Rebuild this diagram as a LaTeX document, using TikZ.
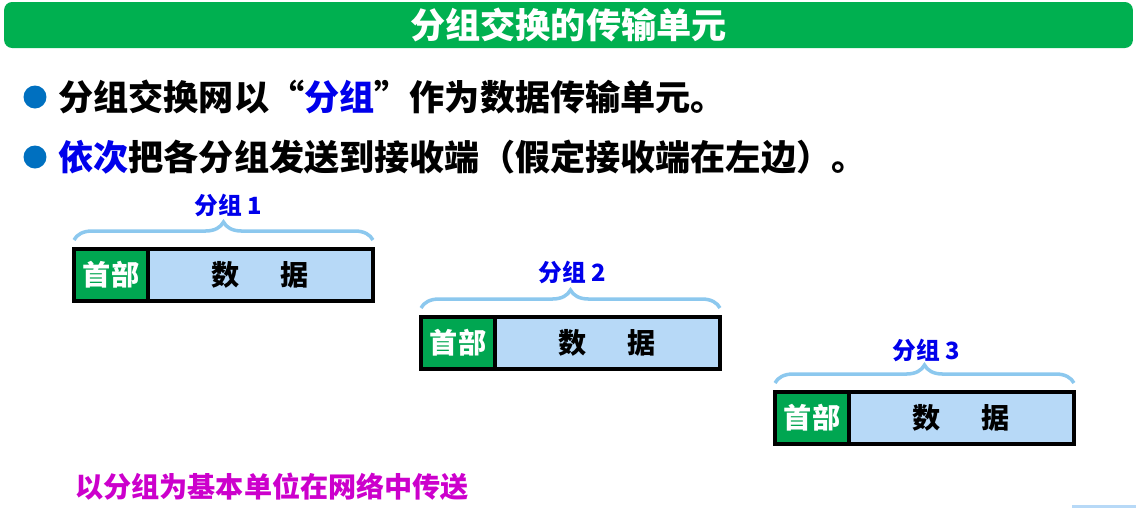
\documentclass[tikz,border=0pt]{standalone}
\usepackage{fontspec}
\setmainfont{Noto Sans CJK SC}
\usetikzlibrary{calc,positioning,decorations.pathreplacing}
\definecolor{titlegreen}{RGB}{0,176,80}
\definecolor{hdrgreen}{RGB}{0,166,81}
\definecolor{datablue}{RGB}{183,217,247}
\definecolor{bracecol}{RGB}{140,200,238}
\definecolor{dotblue}{RGB}{0,112,192}
\definecolor{keyblue}{RGB}{0,0,235}
\definecolor{notemag}{RGB}{204,0,204}
\newcommand{\hl}[1]{\textcolor{keyblue}{#1}}
\tikzset{
  banner/.style={rounded corners=0.16cm, fill=titlegreen, minimum width=22.58cm, minimum height=0.92cm, inner sep=0pt, text=white, font=\fontsize{20pt}{24pt}\selectfont\bfseries},
  bulletdot/.style={circle, fill=dotblue, minimum size=0.46cm, inner sep=0pt},
  point/.style={anchor=west, inner sep=0pt, font=\fontsize{20pt}{24pt}\selectfont\bfseries},
  hdr/.style={draw, line width=1.8pt, fill=hdrgreen, minimum width=1.48cm, minimum height=1.04cm, inner sep=0pt, outer sep=0pt, text=white, font=\fontsize{16pt}{19pt}\selectfont\bfseries},
  payload/.style={draw, line width=1.8pt, fill=datablue, minimum width=4.5cm, minimum height=1.04cm, inner sep=0pt, outer sep=0pt, font=\fontsize{16pt}{19pt}\selectfont\bfseries},
  grpbrace/.style={decorate, decoration={brace, amplitude=0.36cm}, draw=bracecol, line width=2pt},
  grplabel/.style={text=keyblue, inner sep=0pt, font=\fontsize{13.5pt}{16pt}\selectfont\bfseries},
  note/.style={anchor=west, inner sep=0pt, text=notemag, font=\fontsize{16pt}{19pt}\selectfont\bfseries}
}
\begin{document}
\begin{tikzpicture}[x=0.02cm,y=-0.02cm]
  \useasboundingbox (0,0) rectangle (1136,508);
  \node[banner] (title) at (568.5,25) {分组交换的传输单元};

  \node[bulletdot] (dotA) at (35,97) {};
  \node[point] (lineA) at (58,97) {分组交换网以“\hl{分组}”作为数据传输单元。};
  \node[bulletdot] (dotB) at (35,157) {};
  \node[point] (lineB) at (58,157) {\hl{依次}把各分组发送到接收端（假定接收端在左边）。};

  % three packets, each header + data
  \node[hdr] (hdrA) at (111,275) {首部};
  \node[payload, right=0pt of hdrA] (dataA) {数\hspace{1.45em}据};
  \node[hdr] (hdrB) at (458,343) {首部};
  \node[payload, right=0pt of hdrB] (dataB) {数\hspace{1.45em}据};
  \node[hdr] (hdrC) at (812,418) {首部};
  \node[payload, right=0pt of hdrC] (dataC) {数\hspace{1.45em}据};

  \draw[grpbrace] ($(hdrA.north west)+(0,-9)$) -- ($(dataA.north east)+(0,-9)$);
  \draw[grpbrace] ($(hdrB.north west)+(0,-9)$) -- ($(dataB.north east)+(0,-9)$);
  \draw[grpbrace] ($(hdrC.north west)+(0,-9)$) -- ($(dataC.north east)+(0,-9)$);
  \node[grplabel] (lblA) at (228,205) {分组 1};
  \node[grplabel] (lblB) at (572,272) {分组 2};
  \node[grplabel] (lblC) at (926,350) {分组 3};

  \node[note] (note) at (75,487) {以分组为基本单位在网络中传送};
  \fill[datablue] (1072,505) rectangle (1136,508);
\end{tikzpicture}
\end{document}
